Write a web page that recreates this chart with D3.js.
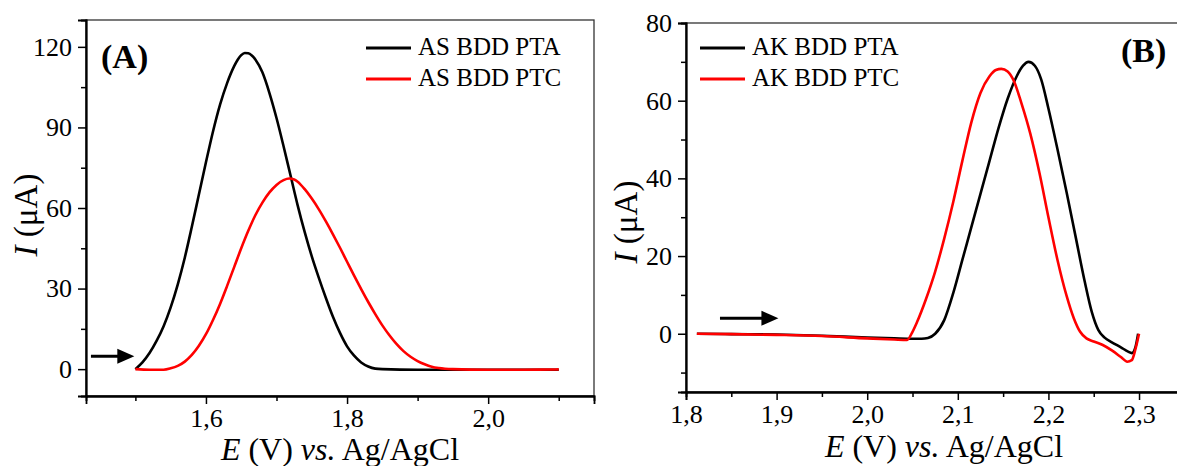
<!DOCTYPE html>
<html>
<head>
<meta charset="utf-8">
<script src="https://cdn.jsdelivr.net/npm/d3@7"></script>
<style>
  body { margin: 0; background: #fff; }
  svg text { font-family: 'Liberation Serif', 'Times New Roman', serif; fill: #000; }
</style>
</head>
<body>
<div id="chart"></div>
<script>
/* global d3 */

// Panel A - AS BDD, potential (V) and current (uA)
const asPtaE = [1.500, 1.510, 1.520, 1.530, 1.540, 1.550, 1.560, 1.570, 1.580, 1.590, 1.600, 1.610, 1.620, 1.630, 1.640, 1.645, 1.650, 1.655, 1.660, 1.665, 1.670, 1.680, 1.690, 1.700, 1.710, 1.720, 1.730, 1.740, 1.750, 1.760, 1.770, 1.780, 1.790, 1.800, 1.810, 1.820, 1.830, 1.840, 1.850, 1.900, 1.950, 2.000, 2.050, 2.100]
const asPtaI = [0, 2.5, 6, 10.5, 16, 23, 31.5, 41.5, 53, 65, 77, 88.5, 98.5, 106.5, 112.8, 115.2, 116.9, 117.7, 117.6, 116.8, 115.3, 110.5, 102.8, 93.5, 83, 72, 61, 51, 42, 34, 26.5, 19.5, 13.5, 8.5, 5, 2.5, 1, 0.2, 0, -0.2, -0.2, -0.2, -0.2, -0.2]

const asPtcE = [1.500, 1.520, 1.540, 1.550, 1.560, 1.570, 1.580, 1.590, 1.600, 1.610, 1.620, 1.630, 1.640, 1.650, 1.660, 1.670, 1.680, 1.690, 1.700, 1.710, 1.718, 1.725, 1.730, 1.740, 1.750, 1.760, 1.770, 1.780, 1.790, 1.800, 1.810, 1.820, 1.830, 1.840, 1.850, 1.860, 1.870, 1.880, 1.890, 1.900, 1.910, 1.920, 1.930, 1.950, 2.000, 2.050, 2.100]
const asPtcI = [0, -0.2, -0.2, 0.3, 1.2, 2.8, 5.3, 8.7, 13, 18.3, 24.3, 31, 38, 45, 51.5, 57.3, 62, 65.8, 68.6, 70.4, 71, 70.6, 69.8, 67, 63.5, 59.5, 55, 50.2, 45.2, 40, 34.8, 29.8, 25, 20.5, 16.3, 12.6, 9.4, 6.7, 4.6, 3, 1.8, 0.9, 0.4, 0, -0.2, -0.2, -0.1]

// Panel B - AK BDD
const akPtaE = [1.812, 1.850, 1.900, 1.950, 2.000, 2.030, 2.050, 2.060, 2.067, 2.075, 2.085, 2.095, 2.105, 2.115, 2.125, 2.135, 2.145, 2.155, 2.165, 2.172, 2.178, 2.185, 2.192, 2.200, 2.210, 2.220, 2.230, 2.240, 2.248, 2.255, 2.262, 2.270, 2.280, 2.288, 2.292, 2.296, 2.299]
const akPtaI = [0, -0.1, -0.2, -0.5, -1.0, -1.2, -1.3, -1.3, -1.1, 0, 3.5, 10.5, 19, 27.5, 36, 44.5, 53, 60.5, 66.3, 69, 70, 69, 65.5, 58, 47.5, 36.5, 25, 13.5, 5.5, 1, -1, -2.2, -3.5, -4.6, -5, -3.5, 0]

const akPtcE = [1.812, 1.850, 1.900, 1.950, 2.000, 2.030, 2.044, 2.050, 2.055, 2.065, 2.075, 2.085, 2.095, 2.105, 2.115, 2.125, 2.135, 2.142, 2.148, 2.155, 2.162, 2.170, 2.180, 2.190, 2.200, 2.210, 2.220, 2.228, 2.235, 2.242, 2.250, 2.260, 2.270, 2.280, 2.287, 2.292, 2.296, 2.300]
const akPtcI = [0, -0.1, -0.3, -0.6, -1.2, -1.5, -1.6, 0.5, 3, 9, 16, 24.5, 34, 44.5, 54.5, 62, 66.3, 67.9, 68.2, 67.5, 65, 59.5, 51.5, 41.5, 30, 19, 9.8, 4, 0.5, -1.2, -2, -2.9, -4.3, -6, -7.2, -6.8, -4, 0]

// Ticks
const aXMajor = [1.6, 1.8, 2.0]
const aXMinor = [1.5, 1.7, 1.9, 2.1]
const aYMajor = [0, 30, 60, 90, 120]
const aYMinor = [15, 45, 75, 105]
const bXMajor = [1.8, 1.9, 2.0, 2.1, 2.2, 2.3]
const bXMinor = [1.85, 1.95, 2.05, 2.15, 2.25, 2.35]
const bYMajor = [0, 20, 40, 60, 80]
const bYMinor = [-10, 10, 30, 50, 70]

const legendA = ['AS BDD PTA', 'AS BDD PTC']
const legendB = ['AK BDD PTA', 'AK BDD PTC']
const colors = ['#000000', '#ff0000']

const width = 1177,
  height = 466

let svg = d3.select('#chart')
  .append('svg')
  .attr('width', width)
  .attr('height', height)
  .style('display', 'block')

const commaFmt = (d) => d3.format('.1f')(d).replace('.', ',')

let drawPanel = (p) => {
  const x = d3.scaleLinear().domain(p.xDomain).range([p.left, p.right])
  const y = d3.scaleLinear().domain(p.yDomain).range([p.bottom, p.top])

  let g = svg.append('g')

  // frame (top / right)
  g.append('rect')
    .attr('x', p.left)
    .attr('y', p.top)
    .attr('width', p.right - p.left)
    .attr('height', p.bottom - p.top)
    .attr('fill', 'none')
    .attr('stroke', '#333')
    .attr('stroke-width', 1.3)

  // curves
  const line = d3.line()
    .x(d => x(d[0]))
    .y(d => y(d[1]))
    .curve(d3.curveMonotoneX)

  p.series.forEach((s, i) => {
    g.append('path')
      .datum(d3.zip(s[0], s[1]))
      .attr('d', line)
      .attr('fill', 'none')
      .attr('stroke', colors[i])
      .attr('stroke-width', 2.6)
      .attr('stroke-linejoin', 'round')
  })

  // axes
  const xAxis = d3.axisBottom(x).tickValues(p.xMajor).tickSize(8).tickPadding(5).tickFormat(commaFmt)
  const xMinor = d3.axisBottom(x).tickValues(p.xMinor).tickSize(5).tickFormat('')
  const yAxis = d3.axisLeft(y).tickValues(p.yMajor).tickSize(8).tickPadding(6).tickFormat(d3.format('d'))
  const yMinor = d3.axisLeft(y).tickValues(p.yMinor).tickSize(5).tickFormat('')

  let axes = [
    g.append('g').attr('transform', `translate(0,${p.bottom})`).call(xAxis),
    g.append('g').attr('transform', `translate(0,${p.bottom})`).call(xMinor),
    g.append('g').attr('transform', `translate(${p.left},0)`).call(yAxis),
    g.append('g').attr('transform', `translate(${p.left},0)`).call(yMinor)
  ]
  axes.forEach(a => {
    a.attr('font-family', null)
    a.select('.domain').attr('stroke', '#000').attr('stroke-width', 1.8)
    a.selectAll('.tick line').attr('stroke', '#000').attr('stroke-width', 1.5)
    a.selectAll('.tick text').style('font-size', '26px').style('font-family', "'Liberation Serif', serif")
  })

  // arrow showing scan direction
  const ax0 = x(p.arrow[0]), ax1 = x(p.arrow[1]), ay = y(p.arrow[2])
  g.append('line')
    .attr('x1', ax0).attr('x2', ax1 - 14)
    .attr('y1', ay).attr('y2', ay)
    .attr('stroke', '#000')
    .attr('stroke-width', 3)
  g.append('path')
    .attr('d', `M${ax1},${ay} L${ax1 - 17},${ay - 7.5} L${ax1 - 17},${ay + 7.5} Z`)
    .attr('fill', '#000')

  // legend
  p.legend.forEach((name, i) => {
    const ly = p.legendY + i * 31
    g.append('line')
      .attr('x1', p.legendX).attr('x2', p.legendX + 45)
      .attr('y1', ly).attr('y2', ly)
      .attr('stroke', colors[i])
      .attr('stroke-width', 3)
    g.append('text')
      .attr('x', p.legendX + 52)
      .attr('y', ly + 7)
      .style('font-size', '25px')
      .text(name)
  })

  // panel tag
  g.append('text')
    .attr('x', p.tag[0])
    .attr('y', p.tag[1])
    .style('font-size', '34px')
    .style('font-weight', 'bold')
    .text(p.tag[2])

  // axis titles
  let xt = g.append('text')
    .attr('x', (p.left + p.right) / 2)
    .attr('y', p.xTitleY)
    .attr('text-anchor', 'middle')
    .style('font-size', '32px')
  xt.append('tspan').style('font-style', 'italic').text('E')
  xt.append('tspan').text(' (V) ')
  xt.append('tspan').style('font-style', 'italic').text('vs.')
  xt.append('tspan').text(' Ag/AgCl')

  let yt = g.append('text')
    .attr('transform', `translate(${p.yTitleX},${p.yTitleY}) rotate(-90)`)
    .attr('text-anchor', 'middle')
    .style('font-size', '33px')
  yt.append('tspan').style('font-style', 'italic').text('I')
  yt.append('tspan').text(' (μA)')
}

drawPanel({
  left: 86, right: 594, top: 20, bottom: 396,
  xDomain: [1.43, 2.15], yDomain: [-10, 130],
  xMajor: aXMajor, xMinor: aXMinor, yMajor: aYMajor, yMinor: aYMinor,
  series: [[asPtaE, asPtaI], [asPtcE, asPtcI]],
  arrow: [1.437, 1.4985, 4.8],
  legend: legendA, legendX: 366, legendY: 48,
  tag: [101, 68, '(A)'],
  xTitleY: 460, yTitleX: 37, yTitleY: 215
})

drawPanel({
  left: 686, right: 1202, top: 23, bottom: 392,
  xDomain: [1.8, 2.3695], yDomain: [-15, 80],
  xMajor: bXMajor, xMinor: bXMinor, yMajor: bYMajor, yMinor: bYMinor,
  series: [[akPtaE, akPtaI], [akPtcE, akPtcI]],
  arrow: [1.8375, 1.902, 4],
  legend: legendB, legendX: 700, legendY: 48,
  tag: [1121, 62, '(B)'],
  xTitleY: 457, yTitleX: 637, yTitleY: 222
})
</script>
</body>
</html>
